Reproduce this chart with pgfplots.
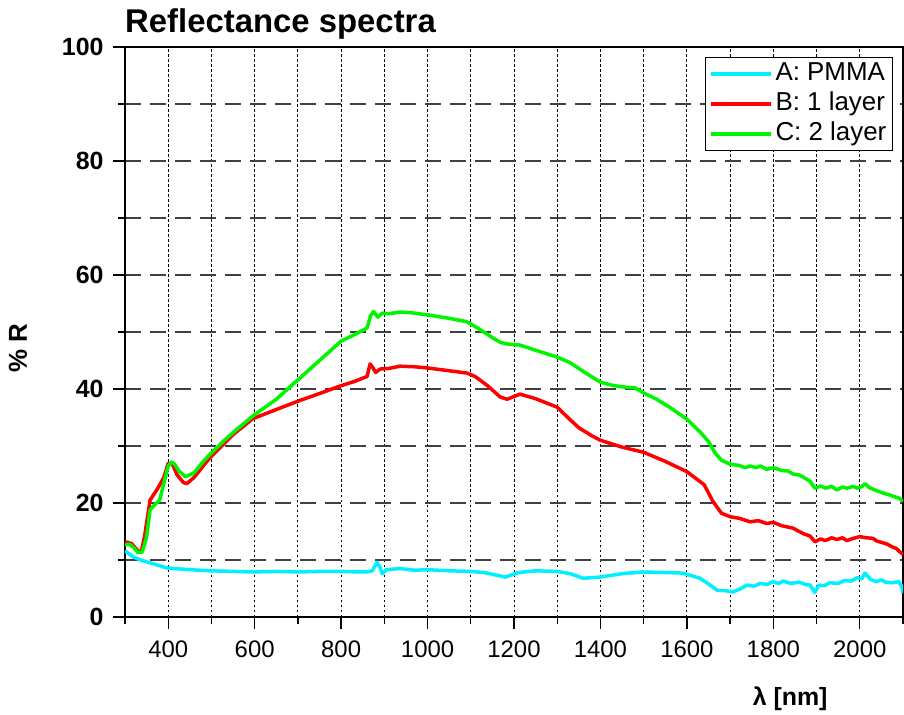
\documentclass[border=0pt]{standalone}
\usepackage{pgfplots}
\pgfplotsset{compat=1.18}
\usepackage{fontspec}
\setmainfont{Liberation Sans}

\definecolor{cA}{RGB}{0,240,255}
\definecolor{cB}{RGB}{255,0,0}
\definecolor{cC}{RGB}{0,245,0}

\begin{document}
\begin{tikzpicture}
\begin{axis}[
  name=ax,
  scale only axis,
  width=778bp, height=570bp,
  xmin=300, xmax=2100, ymin=0, ymax=100,
  xtick={400,600,...,2000},
  minor xtick={300,400,...,2100},
  ytick={0,20,...,100},
  minor ytick={10,30,...,90},
  xtick pos=bottom, ytick pos=left,
  tick align=outside,
  major tick length=12bp, minor tick length=7bp,
  tick style={line width=1.3bp, black},
  axis line style={line width=1.5bp},
  xmajorgrids=false, xminorgrids=true,
  ymajorgrids=true, yminorgrids=true,
  every axis grid/.style={},
  every major grid/.style={},
  every minor grid/.style={},
  every axis x grid/.style={black, line width=0.9bp, dash pattern=on 2.5bp off 2.5bp},
  every axis y grid/.style={black!75, line width=1.1bp, dash pattern=on 16bp off 9bp},
  /pgf/number format/assume math mode=true,
  /pgf/number format/set thousands separator={},
  xticklabel style={font=\fontsize{24}{24}\selectfont, yshift=-8bp},
  yticklabel style={font=\bfseries\fontsize{25}{25}\selectfont, xshift=-6bp},
  xlabel={λ [nm]},
  xlabel style={font=\bfseries\fontsize{25}{25}\selectfont, at={(ticklabel cs:0.855)}, anchor=north, yshift=-23bp},
  ylabel={\% R},
  ylabel style={font=\bfseries\fontsize{26}{26}\selectfont, at={(ticklabel cs:0.472,28bp)}},
  legend cell align=left,
  legend image code/.code={\draw[#1, line width=3.8bp] (0bp,0bp) -- (60bp,0bp);},
  legend style={at={(rel axis cs:0.987,0.982)}, anchor=north east,
    draw=black, line width=1bp, fill=white,
    font=\fontsize{26}{26}\selectfont,
    inner xsep=3bp, inner ysep=1.5bp, row sep=0pt,
    nodes={inner sep=3bp, text height=18bp, text depth=6bp}},
  every axis plot/.append style={line width=3.5bp, line join=round},
]
\addplot[cA] coordinates {
(300,11.6) (320,10.5) (340,9.9) (358,9.5) (397,8.6) (450,8.3) (497,8.1) (550,8.0)
(596,7.9) (650,8.0) (700,7.9) (750,8.0) (800,8.0) (840,7.9) (860,7.9) (872,8.1)
(883,9.6) (890,8.7) (895,7.6) (905,8.3) (936,8.5) (970,8.2) (1000,8.3) (1050,8.1)
(1100,8.0) (1130,7.8) (1150,7.5) (1180,7.0) (1210,7.8) (1250,8.1) (1300,8.0) (1330,7.6)
(1360,6.8) (1399,7.0) (1450,7.6) (1498,7.9) (1550,7.8) (1591,7.7) (1630,6.8) (1650,5.8)
(1670,4.7) (1690,4.6) (1707,4.4) (1725,5.0) (1739,5.6) (1755,5.4) (1770,5.9) (1785,5.7)
(1799,6.2) (1812,5.9) (1823,6.3) (1840,5.9) (1860,6.1) (1875,5.7) (1885,5.6) (1896,4.3)
(1905,5.6) (1918,5.5) (1930,6.0) (1950,5.9) (1965,6.4) (1980,6.3) (1994,6.9) (2005,6.7)
(2012,7.7) (2025,6.6) (2038,6.2) (2050,6.5) (2060,6.1) (2075,6.0) (2090,6.2) (2097,5.4) (2100,4.2)
};
\addlegendentry{A: PMMA}
\addplot[cB] coordinates {
(300,13.2) (315,12.9) (330,11.6) (338,11.5) (345,14) (358,20.5) (376,22.6) (390,24.5)
(400,27) (410,26.8) (420,25) (435,23.6) (443,23.4) (460,24.5) (497,28) (550,32)
(596,34.8) (650,36.4) (705,38) (750,39.2) (797,40.5) (830,41.3) (860,42.2) (867,44.4)
(873,43.8) (880,42.9) (890,43.5) (910,43.6) (936,44) (970,43.9) (999,43.7) (1050,43.2)
(1091,42.8) (1110,42.2) (1140,40.5) (1168,38.6) (1184,38.2) (1214,39.1) (1250,38.3) (1300,36.8)
(1330,34.6) (1350,33.2) (1380,31.8) (1400,31) (1450,29.8) (1500,28.9) (1550,27.3) (1600,25.5)
(1640,23.2) (1660,20.3) (1680,18.2) (1700,17.6) (1722,17.3) (1746,16.7) (1765,16.9) (1785,16.4)
(1800,16.6) (1820,16.0) (1845,15.6) (1870,14.6) (1885,14.2) (1896,13.2) (1910,13.7) (1920,13.4)
(1935,13.9) (1947,13.6) (1960,13.9) (1970,13.4) (1985,13.8) (2000,14.1) (2015,13.9) (2030,13.8)
(2040,13.3) (2050,13.1) (2063,12.8) (2075,12.3) (2085,12.0) (2093,11.4) (2100,11)
};
\addlegendentry{B: 1 layer}
\addplot[cC] coordinates {
(300,12.6) (310,12.8) (320,12.2) (330,11.3) (340,11.4) (350,14) (358,18.8) (370,19.8)
(380,20.5) (390,23.5) (400,26.5) (408,27.2) (415,26.8) (425,25.6) (440,24.6) (460,25.3)
(480,27.2) (500,28.8) (530,31) (560,33) (600,35.5) (650,38.2) (700,41.6) (750,45)
(800,48.4) (830,49.5) (860,50.7) (868,52.8) (875,53.6) (885,52.6) (895,53.3) (910,53.2)
(936,53.5) (960,53.4) (1000,53) (1050,52.4) (1091,51.8) (1120,50.5) (1150,49) (1168,48.2)
(1184,47.9) (1214,47.7) (1250,46.8) (1300,45.6) (1330,44.6) (1370,42.6) (1400,41.2) (1430,40.6)
(1460,40.3) (1480,40.2) (1500,39.3) (1530,38.2) (1560,36.8) (1600,34.7) (1630,32.5) (1650,30.8)
(1665,28.8) (1680,27.5) (1700,26.8) (1720,26.6) (1735,26.2) (1746,26.5) (1760,26.2) (1770,26.5)
(1785,25.9) (1800,26.2) (1820,25.7) (1835,25.6) (1845,25.1) (1860,24.9) (1870,24.5) (1885,23.8)
(1896,22.6) (1910,23.0) (1920,22.6) (1935,22.9) (1947,22.3) (1960,22.8) (1970,22.6) (1985,22.9)
(1994,22.6) (2005,22.9) (2012,23.4) (2022,22.7) (2031,22.4) (2045,22.0) (2060,21.6) (2070,21.4)
(2080,21.1) (2090,20.9) (2100,20.3)
};
\addlegendentry{C: 2 layer}
\end{axis}
\node[anchor=base west, font=\bfseries\fontsize{33}{33}\selectfont, inner sep=0pt]
  at ([yshift=14bp]ax.north west) {Reflectance spectra};
\pgfresetboundingbox
\path ([xshift=-125bp, yshift=-98bp]ax.south west) rectangle ([xshift=1bp, yshift=47bp]ax.north east);
\end{tikzpicture}
\end{document}
